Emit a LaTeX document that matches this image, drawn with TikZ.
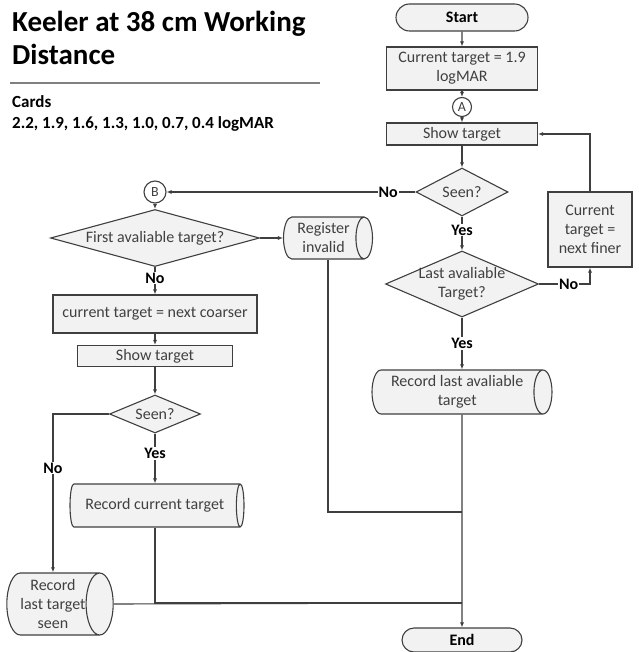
\documentclass[tikz,border=0pt]{standalone}
\usepackage{fontspec}
\setmainfont{Carlito}
\usepackage{tikz}
\usetikzlibrary{shapes.geometric, shapes.misc, arrows.meta}

\definecolor{boxfill}{HTML}{F2F2F2}
\definecolor{edgec}{HTML}{3F3F3F}
\definecolor{textc}{HTML}{404040}

\tikzset{
  block/.style={draw=edgec, fill=boxfill, line width=1.1pt, inner sep=0pt, text=textc, align=center, font=\fontsize{16}{19}\selectfont},
  process/.style 2 args={block, rectangle, minimum width=#1, minimum height=#2},
  decision/.style 2 args={block, diamond, minimum width=#1, minimum height=#2, inner sep=-40pt},
  record/.style 2 args={block, cylinder, aspect=0.55, anchor=shape center, minimum height=#1, minimum width=#2},
  terminal/.style 2 args={block, rounded rectangle, minimum width=#1, minimum height=#2, text=black, font=\bfseries\fontsize{16}{19}\selectfont},
  connector/.style={block, circle, fill=white, minimum size=#1, font=\fontsize{14}{16}\selectfont},
  flow/.style={draw=edgec, line width=1.1pt, -{Latex[length=5pt, width=4pt]}},
  joinline/.style={draw=edgec, line width=1.1pt},
  lbl/.style={fill=white, inner sep=1pt, font=\bfseries\fontsize{16}{19}\selectfont},
}

\begin{document}
\begin{tikzpicture}[x=1pt, y=-1pt]
\useasboundingbox (0,0) rectangle (638,652);

% heading
\node[anchor=north west, inner sep=0pt, align=left, font=\bfseries\fontsize{29}{33}\selectfont] (title) at (12,11) {Keeler at 38 cm Working\\Distance};
\draw[gray, line width=1.5pt] (10,83) -- (320,83);
\node[anchor=north west, inner sep=0pt, align=left, font=\bfseries\fontsize{17}{21}\selectfont] (cards) at (12,95) {Cards\\2.2, 1.9, 1.6, 1.3, 1.0, 0.7, 0.4 logMAR};

% right column
\node[terminal={132}{27}] (start) at (462,17.5) {Start};
\node[process={151}{43}] (cur) at (462,68.5) {Current target = 1.9\\logMAR};
\node[connector=19] (conA) at (462,107) {A};
\node[process={151}{22}] (show1) at (462,134) {Show target};
\node[decision={92}{48}] (seen1) at (462,192) {Seen?};
\node[decision={153}{66}] (last) at (462,284) {Last avaliable\\Target?};
\node[process={84}{75}] (finer) at (590,229.5) {Current\\target =\\next finer};
\node[record={180}{44}] (reclast) at (462,392) {Record last avaliable\\target};
\node[terminal={120}{24}] (endn) at (462,640) {End};

% left column
\node[connector=22] (conB) at (155,192) {B};
\node[decision={209}{57}] (first) at (155,238) {First avaliable target?};
\node[record={89}{42}] (reginv) at (328,238) {Register\\invalid};
\node[process={204}{38}] (coarse) at (155,314) {current target = next coarser};
\node[process={155}{21}] (show2) at (155,356) {Show target};
\node[decision={91}{38}] (seen2) at (155,414) {Seen?};
\node[record={174}{43}] (reccur) at (157,505.5) {Record current target};
\node[record={100}{62}] (recseen) at (60,604) {Record\\last target\\seen};

\coordinate (j1) at (462,512);
\coordinate (j2) at (462,603);

% connectors
\draw[flow] (start) -- (cur);
\draw[flow] (cur) -- (conA);
\draw[flow] (conA) -- (show1);
\draw[flow] (show1) -- (seen1);
\draw[flow] (seen1) -- node[lbl, pos=0.4] {Yes} (last);
\draw[flow] (last) -- node[lbl, pos=0.5] {Yes} (last |- reclast.north);
\draw[flow] (last.east) -| node[lbl, pos=0.29] {No} (finer.south);
\draw[flow] (finer.north) |- (show1.east);
\draw[flow] (seen1.west) -- node[lbl, pos=0.11] {No} (conB);
\draw[flow] (last |- reclast.south) -- (endn);

\draw[flow] (conB) -- (first);
\draw[flow] (first.east) -- (reginv.west);
\draw[flow] (first) -- node[lbl, pos=0.4] {No} (coarse);
\draw[flow] (coarse) -- (show2);
\draw[flow] (show2) -- (seen2);
\draw[flow] (seen2) -- node[lbl, pos=0.4] {Yes} (seen2 |- reccur.north);
\draw[flow] (seen2.west) -| node[lbl, pos=0.67] {No} (recseen.north);

\draw[joinline] (reginv.shape center |- reginv.south) |- (j1);
\draw[joinline] (seen2 |- reccur.south) |- (j2);
\draw[joinline] (recseen.east) -- (j2);
\end{tikzpicture}
\end{document}
